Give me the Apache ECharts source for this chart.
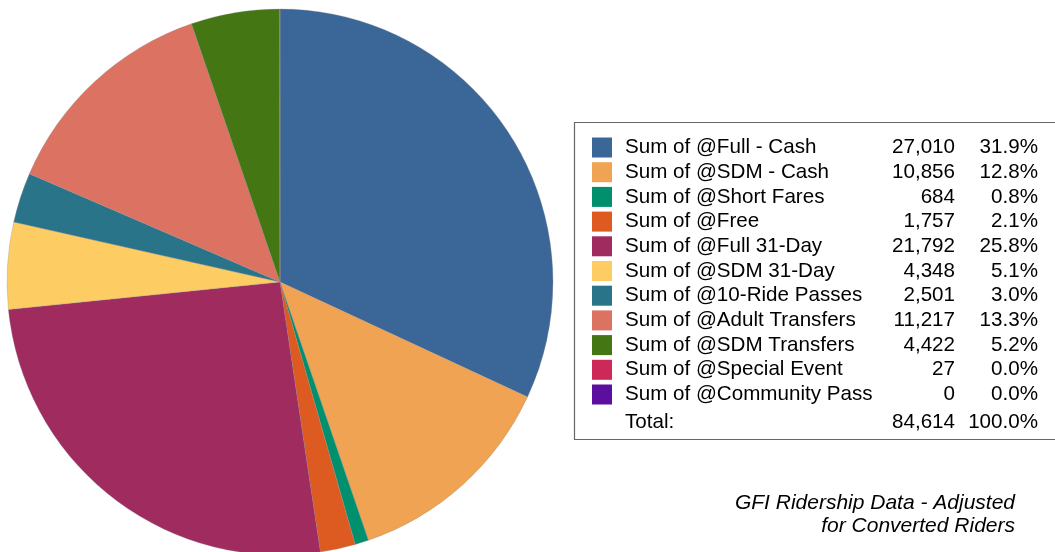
<!DOCTYPE html>
<html>
<head>
<meta charset="utf-8">
<script src="https://cdn.jsdelivr.net/npm/echarts@6/dist/echarts.min.js"></script>
<style>
html,body{margin:0;padding:0;background:#fff;}
#chart{width:1055px;height:552px;}
</style>
</head>
<body>
<div id="chart"></div>
<script>
const categories = [
  'Sum of @Full - Cash',
  'Sum of @SDM - Cash',
  'Sum of @Short Fares',
  'Sum of @Free',
  'Sum of @Full 31-Day',
  'Sum of @SDM 31-Day',
  'Sum of @10-Ride Passes',
  'Sum of @Adult Transfers',
  'Sum of @SDM Transfers',
  'Sum of @Special Event',
  'Sum of @Community Pass'
];
const values = [27010, 10856, 684, 1757, 21792, 4348, 2501, 11217, 4422, 27, 0];
const colors = ['#3B6698', '#F0A453', '#00906E', '#DD5A21', '#A02B5F', '#FDCC63', '#2A748A', '#DC7262', '#457614', '#CC2858', '#5C0E9E'];
const totalLabel = 'Total:';
const subtitleLines = ['GFI Ridership Data - Adjusted', 'for Converted Riders'];

const total = values.reduce((a, b) => a + b, 0);
const fmt = v => v.toLocaleString('en-US');
const pct = v => (v / total * 100).toFixed(1) + '%';
const FONT = '"Liberation Sans", Arial, sans-serif';
const FS = 20.6;

const chart = echarts.init(document.getElementById('chart'), null, {renderer: 'canvas'});
const rich = {
  n: {width: 256, fontSize: FS, lineHeight: 20, height: 20, fontFamily: FONT, color: '#000', padding: [0, 0, 0, 8]},
  v: {width: 74, align: 'right', fontSize: FS, lineHeight: 20, height: 20, fontFamily: FONT, color: '#000'},
  p: {width: 83, align: 'right', fontSize: FS, lineHeight: 20, height: 20, fontFamily: FONT, color: '#000'}
};

chart.setOption({
  animation: false,
  color: colors,
  legend: {
    orient: 'vertical',
    left: 592,
    top: 137,
    padding: 0,
    itemWidth: 20,
    itemHeight: 20,
    itemGap: 3.7,
    icon: 'rect',
    selectedMode: false,
    itemStyle: {borderWidth: 0},
    data: categories,
    formatter: name => {
      const v = values[categories.indexOf(name)];
      return '{n|' + name + '}{v|' + fmt(v) + '}{p|' + pct(v) + '}';
    },
    textStyle: {rich: rich, fontSize: FS, lineHeight: 20, height: 20, fontFamily: FONT, color: '#000'}
  },
  graphic: [
    {
      type: 'rect', z: -1,
      shape: {x: 574.5, y: 122.5, width: 500, height: 317},
      style: {fill: 'none', stroke: '#666', lineWidth: 1.2}
    },
    {
      type: 'text', x: 625, y: 422,
      style: {text: totalLabel, font: FS + 'px ' + FONT, fill: '#000', textAlign: 'left', textVerticalAlign: 'middle'}
    },
    {
      type: 'text', x: 955, y: 422,
      style: {text: fmt(total), font: FS + 'px ' + FONT, fill: '#000', textAlign: 'right', textVerticalAlign: 'middle'}
    },
    {
      type: 'text', x: 1038, y: 422,
      style: {text: (100).toFixed(1) + '%', font: FS + 'px ' + FONT, fill: '#000', textAlign: 'right', textVerticalAlign: 'middle'}
    },
    {
      type: 'text', x: 1015, y: 503,
      style: {text: subtitleLines[0], font: 'italic 21px ' + FONT, fill: '#000', textAlign: 'right', textVerticalAlign: 'middle'}
    },
    {
      type: 'text', x: 1015, y: 526,
      style: {text: subtitleLines[1], font: 'italic 21px ' + FONT, fill: '#000', textAlign: 'right', textVerticalAlign: 'middle'}
    }
  ],
  series: [{
    type: 'pie',
    center: [280, 282],
    radius: 273,
    startAngle: 90,
    clockwise: true,
    silent: true,
    label: {show: false},
    labelLine: {show: false},
    itemStyle: {borderColor: 'rgba(140,140,140,0.6)', borderWidth: 0.5},
    data: categories.map((c, i) => ({name: c, value: values[i]}))
  }]
});
</script>
</body>
</html>
